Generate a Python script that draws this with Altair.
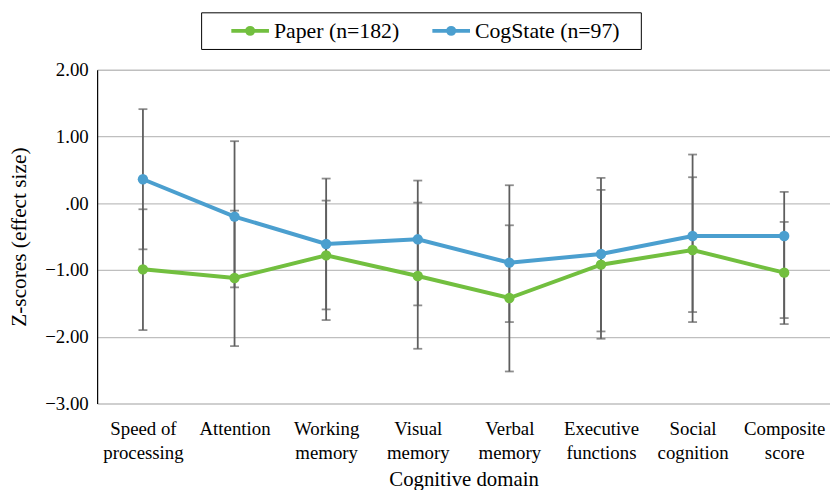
import altair as alt
import pandas as pd

domains = ["Speed of\nprocessing", "Attention", "Working\nmemory", "Visual\nmemory",
           "Verbal\nmemory", "Executive\nfunctions", "Social\ncognition", "Composite\nscore"]
series = ["Paper (n=182)", "CogState (n=97)"]
colors = ["#72bf3f", "#4b9fcf"]

paper_mean = [-0.99, -1.12, -0.78, -1.09, -1.42, -0.92, -0.70, -1.04]
paper_hi = [-0.09, -0.11, 0.04, 0.01, -0.33, 0.20, 0.39, -0.28]
paper_lo = [-1.90, -2.14, -1.75, -2.18, -2.52, -2.03, -1.78, -1.81]
cog_mean = [0.36, -0.20, -0.61, -0.54, -0.89, -0.76, -0.49, -0.49]
cog_hi = [1.41, 0.93, 0.37, 0.34, 0.27, 0.38, 0.73, 0.17]
cog_lo = [-0.69, -1.26, -1.59, -1.53, -1.78, -1.92, -1.63, -1.72]
y_ticks = [-3, -2, -1, 0, 1, 2]

rows = []
for i, d in enumerate(domains):
    rows.append({"domain": d, "series": series[0], "mean": paper_mean[i], "lo": paper_lo[i], "hi": paper_hi[i]})
    rows.append({"domain": d, "series": series[1], "mean": cog_mean[i], "lo": cog_lo[i], "hi": cog_hi[i]})
df = pd.DataFrame(rows)

FONT = "Liberation Serif"
PLOT_W = 740
PLOT_H = 337

x_enc = alt.X("domain:N", sort=domains,
              scale=alt.Scale(type="point", padding=0.5, range=[0, PLOT_W]),
              axis=alt.Axis(title="Cognitive domain", labelAngle=0, domain=False, ticks=False,
                            labelExpr="split(datum.value, '\\n')", labelFont=FONT,
                            labelFontSize=19, labelLineHeight=25, labelPadding=16,
                            labelColor="black", titleFont=FONT, titleFontSize=21,
                            titleFontWeight="normal", titleColor="black",
                            titleY=83, titleBaseline="alphabetic"))

y_axis = alt.Axis(title="Z-scores (effect size)", values=y_ticks,
                  labelExpr="datum.value == 0 ? '.00' : format(datum.value, '.2f')",
                  grid=True, gridColor="#bfbfbf", gridWidth=1.3, ticks=False,
                  domainColor="black", domainWidth=1.2, labelFont=FONT, labelFontSize=19,
                  labelColor="black", labelPadding=9, titleFont=FONT, titleFontSize=21.5,
                  titleFontWeight="normal", titleColor="black", titleX=-78,
                  titleY=PLOT_H / 2, titleAlign="center", titleBaseline="middle")
y_scale = alt.Scale(domain=[-3, 2], nice=False, zero=False)

base = alt.Chart(df).encode(x=x_enc)

color_enc = alt.Color("series:N", sort=series,
                      scale=alt.Scale(domain=series, range=colors),
                      legend=alt.Legend(title=".", titleOrient="right", titleOpacity=0,
                                        titleFont=FONT, titleFontSize=22, titlePadding=8,
                                        orient="none", legendX=105, legendY=-58,
                                        direction="horizontal", strokeColor="black",
                                        padding=7, labelFont=FONT, labelFontSize=22,
                                        labelColor="black",
                                        symbolType="M-2,0L2,0M-0.32,0A0.32,0.32 0 1,0 0.32,0A0.32,0.32 0 1,0 -0.32,0Z",
                                        symbolSize=361, symbolStrokeWidth=4,
                                        symbolOffset=31, labelOffset=12.5, columnPadding=9))

zero = base.mark_rule(color="black", strokeWidth=1.5).encode(
    y=alt.datum(0, scale=y_scale, axis=y_axis))
errs = base.mark_rule(color="#5e5e5e", strokeWidth=1.8).encode(
    y=alt.Y("lo:Q", scale=y_scale, axis=y_axis), y2="hi:Q")
caps_lo = base.mark_tick(color="#5e5e5e", size=9, thickness=1.8).encode(
    y=alt.Y("lo:Q", scale=y_scale, axis=y_axis))
caps_hi = base.mark_tick(color="#5e5e5e", size=9, thickness=1.8).encode(
    y=alt.Y("hi:Q", scale=y_scale, axis=y_axis))
lines = base.mark_line(strokeWidth=4).encode(
    y=alt.Y("mean:Q", scale=y_scale, axis=y_axis), color=color_enc)
points = base.mark_circle(size=110, opacity=1).encode(
    y=alt.Y("mean:Q", scale=y_scale, axis=y_axis), color=color_enc)

chart = alt.layer(zero, errs, caps_lo, caps_hi, lines, points).properties(
    width=PLOT_W, height=PLOT_H,
    autosize=alt.AutoSizeParams(type="none"),
    padding={"left": 90, "top": 60, "right": 0, "bottom": 88},
).configure_view(stroke=None)

chart.save("out.html", embed_options={"renderer": "svg", "actions": False})
